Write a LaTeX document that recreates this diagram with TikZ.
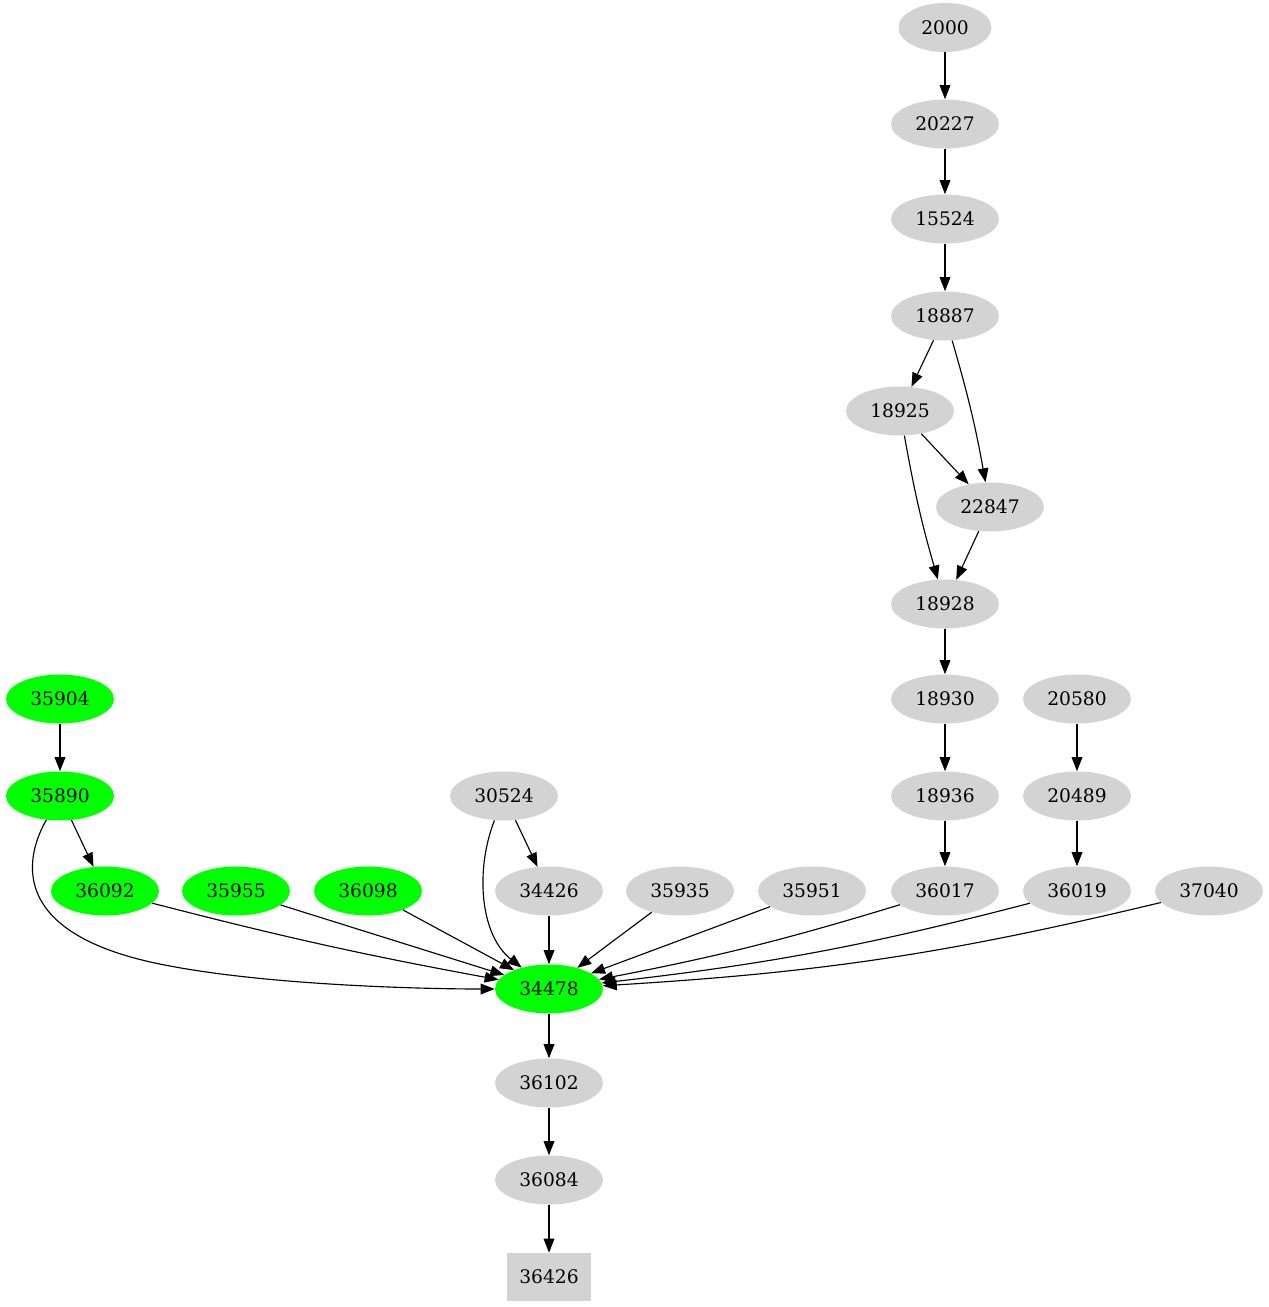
\documentclass[tikz,border=0pt]{standalone}
\usepackage{fontspec}
\setmainfont{DejaVu Serif}
\usepackage{tikz}
\usetikzlibrary{arrows.meta,shapes.geometric}
\definecolor{nodegray}{HTML}{D3D3D3}
\definecolor{nodegreen}{HTML}{00FF00}
\tikzstyle{connector} = [line width=0.85pt, -{Triangle[length=10.5pt,width=8pt]}]
\tikzstyle{job} = [ellipse, fill=nodegray, inner sep=0pt, minimum width=81pt, minimum height=36.75pt, font=\fontsize{14}{16}\selectfont]
\tikzstyle{done} = [job, fill=nodegreen]

\begin{document}
\begin{tikzpicture}[x=0.75pt, y=-0.75pt]
                \useasboundingbox (0,0) rectangle (1269,1307);

                % the long chain on the right
                \node (2000) [job, minimum width=69.75pt] at (945,27.5) {2000};
                \node (20227) [job] at (945,124) {20227};
                \node (15524) [job] at (945,219) {15524};
                \node (18887) [job] at (945,316) {18887};
                \node (18925) [job] at (900,411) {18925};
                \node (22847) [job] at (990,507) {22847};
                \node (18928) [job] at (945,604) {18928};
                \node (18930) [job] at (945,699) {18930};
                \node (18936) [job] at (945,796) {18936};
                \node (20580) [job] at (1077,699) {20580};
                \node (20489) [job] at (1077,796) {20489};

                % the row above the sink
                \node (35904) [done] at (60,699) {35904};
                \node (35890) [done] at (60,796) {35890};
                \node (30524) [job] at (504,796) {30524};
                \node (36092) [done] at (105,891) {36092};
                \node (35955) [done] at (236,891) {35955};
                \node (36098) [done] at (368,891) {36098};
                \node (34426) [job] at (549,891) {34426};
                \node (35935) [job] at (680,891) {35935};
                \node (35951) [job] at (812,891) {35951};
                \node (36017) [job] at (945,891) {36017};
                \node (36019) [job] at (1077,891) {36019};
                \node (37040) [job] at (1209,891) {37040};

                % the sink and its tail
                \node (34478) [done] at (549,989) {34478};
                \node (36102) [job] at (549,1083) {36102};
                \node (36084) [job] at (549,1180) {36084};
                \node (36426) [rectangle, fill=nodegray, minimum width=63pt, minimum height=36pt, font=\fontsize{14}{16}\selectfont] at (549,1277) {36426};

                \draw [connector] (2000) -- (20227);
                \draw [connector] (20227) -- (15524);
                \draw [connector] (15524) -- (18887);
                \draw [connector] (18887) -- (18925);
                \draw [connector] (18887) to[bend left=3] (22847);
                \draw [connector] (18925) -- (22847);
                \draw [connector] (18925) to[bend right=3] (18928);
                \draw [connector] (22847) -- (18928);
                \draw [connector] (18928) -- (18930);
                \draw [connector] (18930) -- (18936);
                \draw [connector] (18936) -- (36017);
                \draw [connector] (20580) -- (20489);
                \draw [connector] (20489) -- (36019);

                \draw [connector] (35904) -- (35890);
                \draw [connector] (35890) -- (36092);
                \draw [connector] (35890) .. controls (28,852) and (0,935) .. (170,966) .. controls (270,985) and (420,989) .. (34478);
                \draw [connector] (30524) -- (34426);
                \draw [connector] (30524) .. controls (475,870) and (480,935) .. (34478);

                \draw [connector] (36092) to[bend right=2] (34478);
                \draw [connector] (35955) -- (34478);
                \draw [connector] (36098) -- (34478);
                \draw [connector] (34426) -- (34478);
                \draw [connector] (35935) -- (34478);
                \draw [connector] (35951) -- (34478);
                \draw [connector] (36017) to[bend left=3] (34478);
                \draw [connector] (36019) to[bend left=4] (34478);
                \draw [connector] (37040) to[bend left=5] (34478);

                \draw [connector] (34478) -- (36102);
                \draw [connector] (36102) -- (36084);
                \draw [connector] (36084) -- (36426);
            \end{tikzpicture}
\end{document}
